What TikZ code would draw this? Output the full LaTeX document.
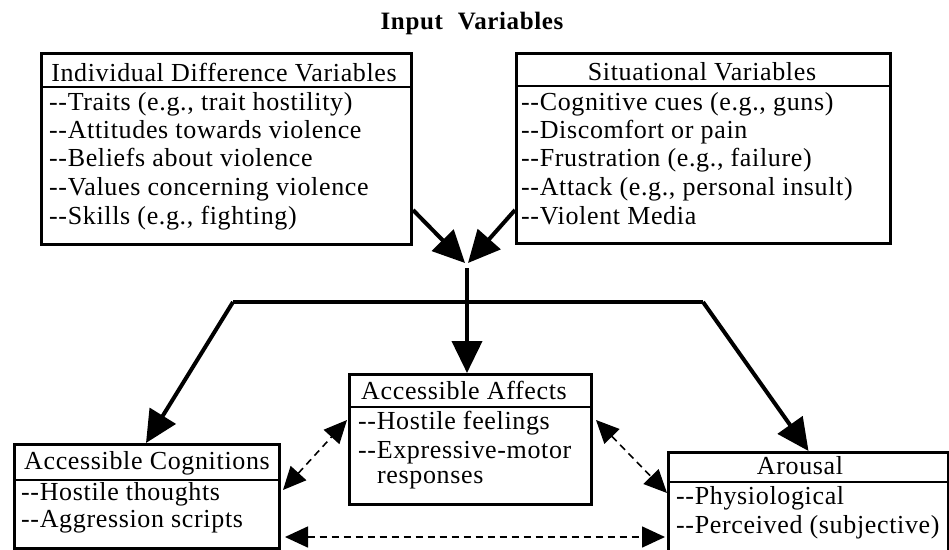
\documentclass[tikz,border=0pt]{standalone}
\usepackage{fontspec}
\setmainfont{Liberation Serif}[LetterSpace=2.5]
\usetikzlibrary{arrows.meta,calc}
\newcommand\dd{-{}-}
\begin{document}
\begin{tikzpicture}[x=1pt,y=-1pt,
  box/.style={draw,line width=3pt,rectangle,inner sep=0pt,anchor=north west},
  sep/.style={line width=1.6pt},
  txt/.style={font=\fontsize{26}{29}\selectfont,inner sep=0pt,anchor=west,text height=18pt,text depth=6pt},
  hdr/.style={font=\fontsize{26}{29}\selectfont,inner sep=0pt,anchor=center,text height=18pt,text depth=6pt},
  solidarrow/.style={line width=4pt,-{Triangle[length=32pt,width=30pt]}},
  dasharrow/.style={line width=1.6pt,dash pattern=on 7pt off 5pt,{Triangle[length=23pt,width=21pt]}-{Triangle[length=23pt,width=21pt]}}
]
\useasboundingbox (0,0) rectangle (949,549);
\node[font=\fontsize{25}{28}\selectfont\bfseries,inner sep=0pt] (title) at (472,23) {Input\hspace{0.6em}Variables};

% Individual difference box
\node[box,minimum width=370pt,minimum height=191pt] (ind) at (40,52) {};
\draw[sep] ([yshift=-35pt]ind.north west) -- ([yshift=-35pt]ind.north east);
\node[hdr] (indh) at (224,75) {Individual Difference Variables};
\node[txt] (ind1) at (49,104) {\dd Traits (e.g., trait hostility)};
\node[txt] (ind2) at (49,132) {\dd Attitudes towards violence};
\node[txt] (ind3) at (49,160) {\dd Beliefs about violence};
\node[txt] (ind4) at (49,189) {\dd Values concerning violence};
\node[txt] (ind5) at (49,218) {\dd Skills (e.g., fighting)};

% Situational box
\node[box,minimum width=374pt,minimum height=190pt] (sit) at (515,52) {};
\draw[sep] ([yshift=-34pt]sit.north west) -- ([yshift=-34pt]sit.north east);
\node[hdr] (sith) at (702,74) {Situational Variables};
\node[txt] (sit1) at (521,104) {\dd Cognitive cues (e.g., guns)};
\node[txt] (sit2) at (521,132) {\dd Discomfort or pain};
\node[txt] (sit3) at (521,160) {\dd Frustration (e.g., failure)};
\node[txt] (sit4) at (521,189) {\dd Attack (e.g., personal insult)};
\node[txt] (sit5) at (521,218) {\dd Violent Media};

% Affects box
\node[box,minimum width=242pt,minimum height=130pt] (aff) at (348,373) {};
\draw[sep] ([yshift=-34pt]aff.north west) -- ([yshift=-34pt]aff.north east);
\node[hdr] (affh) at (464,393) {Accessible Affects};
\node[txt] (aff1) at (358,423) {\dd Hostile feelings};
\node[txt] (aff2) at (358,452) {\dd Expressive-motor};
\node[txt] (aff3) at (377,477) {responses};

% Cognitions box
\node[box,minimum width=265pt,minimum height=104pt] (cog) at (13,443) {};
\draw[sep] ([yshift=-37pt]cog.north west) -- ([yshift=-37pt]cog.north east);
\node[hdr] (cogh) at (147,463) {Accessible Cognitions};
\node[txt] (cog1) at (21,494) {\dd Hostile thoughts};
\node[txt] (cog2) at (21,521) {\dd Aggression scripts};

% Arousal box
\node[box,minimum width=280pt,minimum height=100pt] (aro) at (667,451) {};
\draw[sep] ([yshift=-31pt]aro.north west) -- ([yshift=-31pt]aro.north east);
\node[hdr] (aroh) at (800,468) {Arousal};
\node[txt] (aro1) at (676,498) {\dd Physiological};
\node[txt] (aro2) at (676,527) {\dd Perceived (subjective)};

% solid connectors
\coordinate (J) at (467,268);
\coordinate (Jl) at (465,263);
\coordinate (Jr) at (468,263);
\coordinate (L) at (233,302);
\coordinate (R) at (703,302);
\draw[solidarrow] ([yshift=-158pt]ind.north east) -- (Jl);
\draw[solidarrow] ([yshift=-158pt]sit.north west) -- (Jr);
\draw[solidarrow] (J) -- (aff.north -| J);
\draw[line width=4pt,line join=miter] (L) -- (R);
\draw[solidarrow] (L) -- ([xshift=-1pt]cog.north);
\draw[solidarrow] (R) -- (aro.north);

% dashed connectors
\draw[dasharrow] ([yshift=-47pt,xshift=2pt]cog.north east) -- ([yshift=-47pt,xshift=-1pt]aff.north west);
\draw[dasharrow] ([yshift=-47pt,xshift=3pt]aff.north east) -- ([yshift=-42pt]aro.north west);
\draw[dasharrow] ([yshift=-94pt,xshift=4pt]cog.north east) -- ([yshift=-86pt,xshift=-2pt]aro.north west);
\end{tikzpicture}
\end{document}
